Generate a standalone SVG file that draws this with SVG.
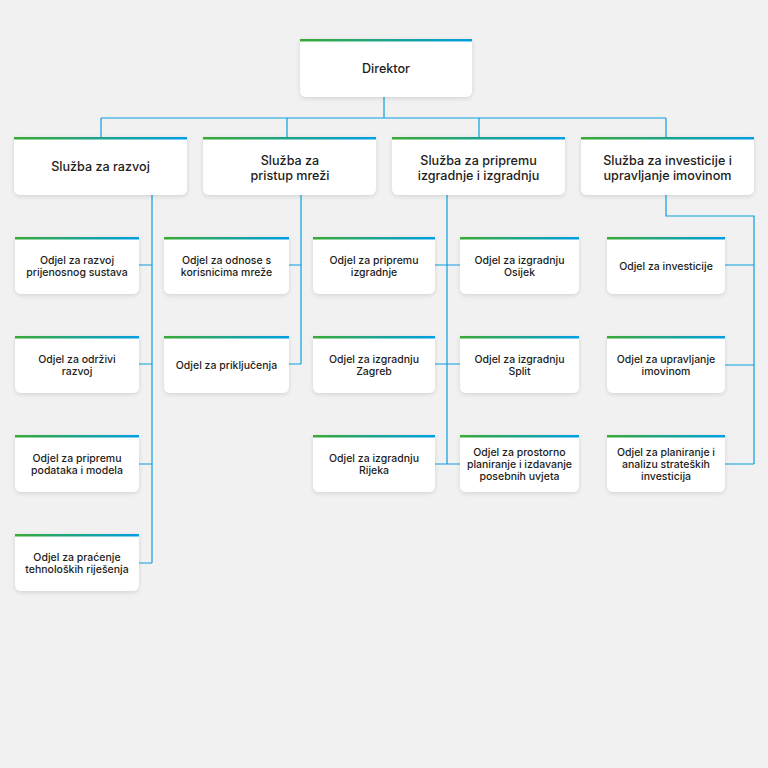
<svg xmlns="http://www.w3.org/2000/svg" width="768" height="768" viewBox="0 0 768 768">
<defs>
<linearGradient id="bar" x1="0" y1="0" x2="1" y2="0">
<stop offset="0" stop-color="#3aaa35"/>
<stop offset="1" stop-color="#009fe3"/>
</linearGradient>
<filter id="sh" x="-10%" y="-10%" width="120%" height="130%">
<feDropShadow dx="0" dy="1.5" stdDeviation="2" flood-color="#000" flood-opacity="0.12"/>
</filter>
</defs>
<style>
.box{fill:#ffffff;filter:url(#sh)}
.bar{fill:url(#bar)}
text{font-family:Inter,"Noto Sans","Liberation Sans",sans-serif;fill:#1d1d1b;text-anchor:middle;font-weight:500}
.t1{font-size:12.6px}
.t3{font-size:10.5px}
.con{fill:none;stroke:#0a9fe0;stroke-width:1.2}
</style>
<rect width="768" height="768" fill="#f1f1f1"/>
<g id="connectors" class="con">
<path d="M384 97V118M101 118H666M101 118V137M287 118V137M479 118V137M666 118V137"/>
<path d="M152 195V563M139 265H152M139 364H152M139 464H152M139 563H152"/>
<path d="M301 195V364M289 265H301M289 364H301"/>
<path d="M447 195V464M435 265H460M435 364H460M435 464H460"/>
<path d="M666 195V216H754V464M725 265H754M725 365H754M725 464H754"/>
</g>
<g id="n-direktor"><path class="box" d="M300 39h172v52a6 6 0 0 1-6 6h-160a6 6 0 0 1-6-6z"/><rect class="bar" x="300" y="39" width="172" height="2.5"/><text class="t1" x="386" y="72.5">Direktor</text></g>
<g id="n-razvoj"><path class="box" d="M14 137h173v52a6 6 0 0 1-6 6h-161a6 6 0 0 1-6-6z"/><rect class="bar" x="14" y="137" width="173" height="2.5"/><text class="t1" x="100.5" y="171">Služba za razvoj</text></g>
<g id="n-pristup"><path class="box" d="M203 137h173v52a6 6 0 0 1-6 6h-161a6 6 0 0 1-6-6z"/><rect class="bar" x="203" y="137" width="173" height="2.5"/><text class="t1" x="290" y="164.5">Služba za</text><text class="t1" x="290" y="179.5">pristup mreži</text></g>
<g id="n-pripremu"><path class="box" d="M392 137h173v52a6 6 0 0 1-6 6h-161a6 6 0 0 1-6-6z"/><rect class="bar" x="392" y="137" width="173" height="2.5"/><text class="t1" x="478.5" y="164.5">Služba za pripremu</text><text class="t1" x="478.5" y="179.5">izgradnje i izgradnju</text></g>
<g id="n-investicije"><path class="box" d="M581 137h173v52a6 6 0 0 1-6 6h-161a6 6 0 0 1-6-6z"/><rect class="bar" x="581" y="137" width="173" height="2.5"/><text class="t1" x="667.5" y="164.5">Služba za investicije i</text><text class="t1" x="667.5" y="179.5">upravljanje imovinom</text></g>

<g id="n-c1-1"><path class="box" d="M15 237h124v51a6 6 0 0 1-6 6h-112a6 6 0 0 1-6-6z"/><rect class="bar" x="15" y="237" width="124" height="2.5"/><text class="t3" x="77" y="263.5">Odjel za razvoj</text><text class="t3" x="77" y="276">prijenosnog sustava</text></g>
<g id="n-c1-2"><path class="box" d="M15 336h124v51a6 6 0 0 1-6 6h-112a6 6 0 0 1-6-6z"/><rect class="bar" x="15" y="336" width="124" height="2.5"/><text class="t3" x="77" y="362.5">Odjel za održivi</text><text class="t3" x="77" y="375">razvoj</text></g>
<g id="n-c1-3"><path class="box" d="M15 435h124v51a6 6 0 0 1-6 6h-112a6 6 0 0 1-6-6z"/><rect class="bar" x="15" y="435" width="124" height="2.5"/><text class="t3" x="77" y="461.5">Odjel za pripremu</text><text class="t3" x="77" y="474">podataka i modela</text></g>
<g id="n-c1-4"><path class="box" d="M15 534h124v51a6 6 0 0 1-6 6h-112a6 6 0 0 1-6-6z"/><rect class="bar" x="15" y="534" width="124" height="2.5"/><text class="t3" x="77" y="560.5">Odjel za praćenje</text><text class="t3" x="77" y="573">tehnoloških riješenja</text></g>

<g id="n-c2-1"><path class="box" d="M164 237h125v51a6 6 0 0 1-6 6h-113a6 6 0 0 1-6-6z"/><rect class="bar" x="164" y="237" width="125" height="2.5"/><text class="t3" x="226.5" y="263.5">Odjel za odnose s</text><text class="t3" x="226.5" y="276">korisnicima mreže</text></g>
<g id="n-c2-2"><path class="box" d="M164 336h125v51a6 6 0 0 1-6 6h-113a6 6 0 0 1-6-6z"/><rect class="bar" x="164" y="336" width="125" height="2.5"/><text class="t3" x="226.5" y="368.5">Odjel za priključenja</text></g>

<g id="n-c3-1"><path class="box" d="M313 237h122v51a6 6 0 0 1-6 6h-110a6 6 0 0 1-6-6z"/><rect class="bar" x="313" y="237" width="122" height="2.5"/><text class="t3" x="374" y="263.5">Odjel za pripremu</text><text class="t3" x="374" y="276">izgradnje</text></g>
<g id="n-c3-2"><path class="box" d="M313 336h122v51a6 6 0 0 1-6 6h-110a6 6 0 0 1-6-6z"/><rect class="bar" x="313" y="336" width="122" height="2.5"/><text class="t3" x="374" y="362.5">Odjel za izgradnju</text><text class="t3" x="374" y="375">Zagreb</text></g>
<g id="n-c3-3"><path class="box" d="M313 435h122v51a6 6 0 0 1-6 6h-110a6 6 0 0 1-6-6z"/><rect class="bar" x="313" y="435" width="122" height="2.5"/><text class="t3" x="374" y="461.5">Odjel za izgradnju</text><text class="t3" x="374" y="474">Rijeka</text></g>

<g id="n-c3-4"><path class="box" d="M460 237h119v51a6 6 0 0 1-6 6h-107a6 6 0 0 1-6-6z"/><rect class="bar" x="460" y="237" width="119" height="2.5"/><text class="t3" x="519.5" y="263.5">Odjel za izgradnju</text><text class="t3" x="519.5" y="276">Osijek</text></g>
<g id="n-c3-5"><path class="box" d="M460 336h119v51a6 6 0 0 1-6 6h-107a6 6 0 0 1-6-6z"/><rect class="bar" x="460" y="336" width="119" height="2.5"/><text class="t3" x="519.5" y="362.5">Odjel za izgradnju</text><text class="t3" x="519.5" y="375">Split</text></g>
<g id="n-c3-6"><path class="box" d="M460 435h119v51a6 6 0 0 1-6 6h-107a6 6 0 0 1-6-6z"/><rect class="bar" x="460" y="435" width="119" height="2.5"/><text class="t3" x="519.5" y="456">Odjel za prostorno</text><text class="t3" x="519.5" y="468">planiranje i izdavanje</text><text class="t3" x="519.5" y="480">posebnih uvjeta</text></g>

<g id="n-c4-1"><path class="box" d="M607 237h118v51a6 6 0 0 1-6 6h-106a6 6 0 0 1-6-6z"/><rect class="bar" x="607" y="237" width="118" height="2.5"/><text class="t3" x="666" y="269.5">Odjel za investicije</text></g>
<g id="n-c4-2"><path class="box" d="M607 336h118v51a6 6 0 0 1-6 6h-106a6 6 0 0 1-6-6z"/><rect class="bar" x="607" y="336" width="118" height="2.5"/><text class="t3" x="666" y="362.5">Odjel za upravljanje</text><text class="t3" x="666" y="375">imovinom</text></g>
<g id="n-c4-3"><path class="box" d="M607 435h118v51a6 6 0 0 1-6 6h-106a6 6 0 0 1-6-6z"/><rect class="bar" x="607" y="435" width="118" height="2.5"/><text class="t3" x="666" y="456">Odjel za planiranje i</text><text class="t3" x="666" y="468">analizu strateških</text><text class="t3" x="666" y="480">investicija</text></g>
</svg>
